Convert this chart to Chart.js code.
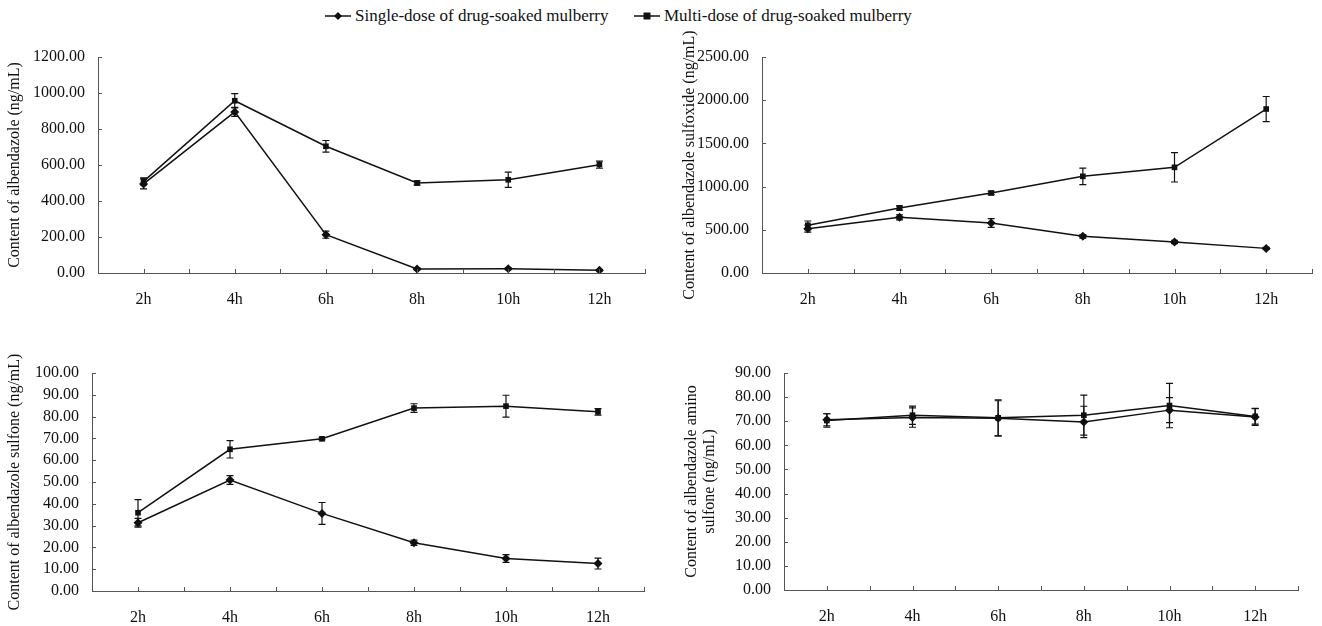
<!DOCTYPE html>
<html>
<head>
<meta charset="utf-8">
<script src="https://cdn.jsdelivr.net/npm/chart.js@4.4.0/dist/chart.umd.min.js"></script>
<style>
  html, body { margin: 0; padding: 0; background: #fff; }
  body { width: 1322px; height: 626px; position: relative; overflow: hidden; font-family: 'Liberation Serif', serif; color: #111; }
  canvas { position: absolute; }
  .leg { position: absolute; top: 6px; font-size: 17px; line-height: 20px; white-space: nowrap; }
  .leg svg { position: absolute; top: 0; }
</style>
</head>
<body>
<div class="leg" style="left:325px">
  <svg width="26" height="20"><line x1="0" y1="10" x2="26" y2="10" stroke="#111" stroke-width="1.5"/><path d="M13 6 L17 10 L13 14 L9 10 Z" fill="#111"/></svg>
  <span style="position:absolute;left:30px">Single-dose of drug-soaked mulberry</span>
</div>
<div class="leg" style="left:634px">
  <svg width="26" height="20"><line x1="0" y1="10" x2="26" y2="10" stroke="#111" stroke-width="1.5"/><rect x="9.5" y="6.5" width="7" height="7" fill="#111"/></svg>
  <span style="position:absolute;left:30px">Multi-dose of drug-soaked mulberry</span>
</div>

<canvas id="c1" style="left:0px;top:30px" width="660" height="290"></canvas>
<canvas id="c2" style="left:660px;top:30px" width="662" height="290"></canvas>
<canvas id="c3" style="left:0px;top:330px" width="660" height="296"></canvas>
<canvas id="c4" style="left:660px;top:330px" width="662" height="296"></canvas>

<script>
// time points
const timeLabels = ['2h', '4h', '6h', '8h', '10h', '12h'];

// albendazole
const abzSingle = [495, 895, 213, 22, 24, 15];
const abzSingleErr = [28, 25, 20, 5, 5, 4];
const abzMulti = [509, 957, 704, 500, 518, 602];
const abzMultiErr = [20, 40, 32, 12, 42, 20];

// albendazole sulfoxide
const soSingle = [513, 644, 579, 424, 359, 285];
const soSingleErr = [40, 30, 50, 20, 20, 12];
const soMulti = [552, 752, 926, 1119, 1223, 1898];
const soMultiErr = [50, 25, 20, 95, 170, 145];

// albendazole sulfone
const sfSingle = [31.3, 50.9, 35.6, 22.1, 14.9, 12.6];
const sfSingleErr = [2, 2, 5, 1.2, 1.8, 2.5];
const sfMulti = [35.9, 65.0, 69.8, 83.9, 84.8, 82.2];
const sfMultiErr = [6, 4, 0.5, 2, 5, 1.5];

// albendazole amino sulfone
const amSingle = [70.6, 71.5, 71.2, 69.7, 74.6, 71.8];
const amSingleErr = [2.5, 4, 7.3, 6.5, 5.2, 3.5];
const amMulti = [70.3, 72.5, 71.4, 72.5, 76.5, 72.0];
const amMultiErr = [2.8, 3.8, 7.5, 8.3, 9.2, 3.2];

const ink = '#111';
const axisColor = '#555';
const tickFont = { family: 'Liberation Serif', size: 16 };

// error bars drawn from dataset.errors
const errorBars = {
  id: 'errorBars',
  afterDatasetsDraw(chart) {
    const ctx = chart.ctx;
    const y = chart.scales.y;
    ctx.save();
    ctx.strokeStyle = ink;
    ctx.lineWidth = 1.2;
    chart.data.datasets.forEach((ds, i) => {
      const meta = chart.getDatasetMeta(i);
      meta.data.forEach((pt, j) => {
        const v = ds.data[j].y, e = ds.errors[j];
        const top = y.getPixelForValue(v + e), bot = y.getPixelForValue(v - e);
        ctx.beginPath();
        ctx.moveTo(pt.x, top); ctx.lineTo(pt.x, bot);
        ctx.moveTo(pt.x - 3.5, top); ctx.lineTo(pt.x + 3.5, top);
        ctx.moveTo(pt.x - 3.5, bot); ctx.lineTo(pt.x + 3.5, bot);
        ctx.stroke();
      });
    });
    ctx.restore();
  }
};

// tick marks pointing into the plot
const innerTicks = {
  id: 'innerTicks',
  afterDraw(chart) {
    const ctx = chart.ctx;
    const { x, y } = chart.scales;
    const a = chart.chartArea;
    ctx.save();
    ctx.strokeStyle = axisColor;
    ctx.lineWidth = 1;
    ctx.beginPath();
    x.ticks.forEach(t => {
      const px = Math.round(x.getPixelForValue(t.value)) + 0.5;
      ctx.moveTo(px, a.bottom); ctx.lineTo(px, a.bottom - 4);
    });
    y.ticks.forEach(t => {
      const py = Math.round(y.getPixelForValue(t.value)) + 0.5;
      ctx.moveTo(a.left, py); ctx.lineTo(a.left + 4, py);
    });
    ctx.stroke();
    ctx.restore();
  }
};

function makeChart(id, opt) {
  const pts = arr => arr.map((v, i) => ({ x: i, y: v }));
  return new Chart(document.getElementById(id), {
    type: 'line',
    data: {
      datasets: [
        { label: 'Single-dose of drug-soaked mulberry', data: pts(opt.single), errors: opt.singleErr,
          pointStyle: 'rectRot', pointRadius: 4.5 },
        { label: 'Multi-dose of drug-soaked mulberry', data: pts(opt.multi), errors: opt.multiErr,
          pointStyle: 'rect', pointRadius: 4 }
      ]
    },
    options: {
      responsive: false,
      animation: false,
      layout: { padding: opt.pad },
      elements: {
        line: { borderColor: ink, borderWidth: 1.5, tension: 0 },
        point: { backgroundColor: ink, borderColor: ink, borderWidth: 0 }
      },
      plugins: { legend: { display: false }, tooltip: { enabled: false } },
      scales: {
        x: {
          type: 'linear', min: -0.5, max: 5.5,
          afterFit: s => { s.height = opt.xHeight; s.paddingLeft = 0; s.paddingRight = 0; },
          grid: { display: true, drawOnChartArea: false, drawTicks: false },
          border: { display: true, color: axisColor, width: 1 },
          ticks: {
            stepSize: 0.5, autoSkip: false, maxRotation: 0, padding: 17,
            color: ink, font: tickFont,
            callback: v => Number.isInteger(v) && v >= 0 ? timeLabels[v] : ''
          }
        },
        y: {
          min: 0, max: opt.max,
          afterFit: s => { s.width = opt.yWidth; s.paddingTop = 0; s.paddingBottom = 0; },
          grid: { display: true, drawOnChartArea: false, drawTicks: false },
          border: { display: true, color: axisColor, width: 1 },
          ticks: { stepSize: opt.step, autoSkip: false, padding: 13, color: ink, font: tickFont,
            callback: v => v.toFixed(2) },
          title: { display: true, text: opt.title, color: ink, padding: 0,
            font: { family: 'Liberation Serif', size: 16, lineHeight: 1.1 } }
        }
      }
    },
    plugins: [errorBars, innerTicks]
  });
}

makeChart('c1', {
  single: abzSingle, singleErr: abzSingleErr, multi: abzMulti, multiErr: abzMultiErr,
  max: 1200, step: 200, title: 'Content of albendazole (ng/mL)',
  pad: { left: 6, top: 27, right: 15, bottom: 0 }, yWidth: 92, xHeight: 47
});
makeChart('c2', {
  single: soSingle, singleErr: soSingleErr, multi: soMulti, multiErr: soMultiErr,
  max: 2500, step: 500, title: 'Content of albendazole sulfoxide (ng/mL)',
  pad: { left: 21, top: 27, right: 10, bottom: 0 }, yWidth: 81, xHeight: 47
});
makeChart('c3', {
  single: sfSingle, singleErr: sfSingleErr, multi: sfMulti, multiErr: sfMultiErr,
  max: 100, step: 10, title: 'Content of albendazole sulfone (ng/mL)',
  pad: { left: 6, top: 43, right: 16, bottom: 0 }, yWidth: 86, xHeight: 35
});
makeChart('c4', {
  single: amSingle, singleErr: amSingleErr, multi: amMulti, multiErr: amMultiErr,
  max: 90, step: 10, title: ['Content of albendazole amino', 'sulfone (ng/mL)'],
  pad: { left: 23, top: 43, right: 24, bottom: 0 }, yWidth: 101, xHeight: 36
});
</script>
</body>
</html>
